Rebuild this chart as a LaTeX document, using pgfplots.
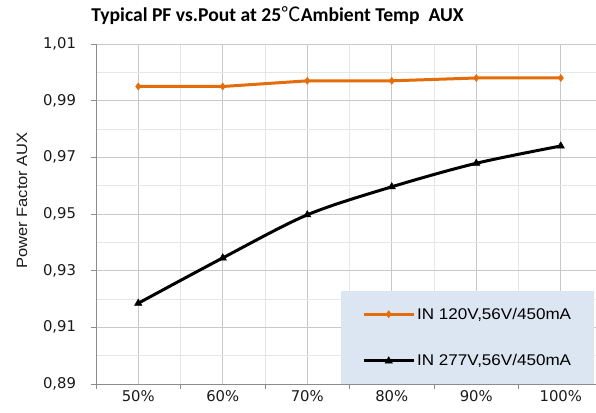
\documentclass[border=0pt]{standalone}
\usepackage{fontspec}
\usepackage{pgfplots}
\pgfplotsset{compat=1.18}
\setmainfont{DejaVu Sans}
\newfontfamily\arialS[FakeStretch=1.1]{Liberation Sans}
\newfontfamily\titlefont{Carlito}
\newfontfamily\cjk{Noto Sans CJK SC}
\definecolor{pforange}{HTML}{E46C0A}
\definecolor{legbg}{HTML}{DCE6F2}
\definecolor{majgrid}{HTML}{C8C8C8}
\definecolor{mingrid}{HTML}{E6E6E6}
\definecolor{axgray}{HTML}{8C8C8C}
\definecolor{lblgray}{HTML}{1A1A1A}
\begin{document}
\begin{tikzpicture}
\useasboundingbox (0,0) rectangle (596pt,412pt);
\begin{axis}[
  at={(96pt,28pt)}, anchor=south west,
  scale only axis, width=500pt, height=340pt,
  xmin=-0.5, xmax=5.417, ymin=0.89, ymax=1.01,
  axis x line*=bottom, axis y line*=left,
  axis line style={axgray, line width=0.8pt},
  xtick={0,1,2,3,4,5},
  xticklabels={50\%,60\%,70\%,80\%,90\%,100\%},
  minor xtick={-0.5,0.5,1.5,2.5,3.5,4.5},
  ytick={0.89,0.91,0.93,0.95,0.97,0.99,1.01},
  minor ytick={0.90,0.92,0.94,0.96,0.98,1.00},
  /pgf/number format/fixed,
  /pgf/number format/fixed zerofill,
  /pgf/number format/precision=2,
  /pgf/number format/use comma,
  /pgf/number format/assume math mode=true,
  tick align=outside,
  major tick length=5pt, minor tick length=5pt,
  major x tick style={draw=none},
  minor y tick style={draw=none},
  every tick/.style={axgray, line width=0.8pt},
  grid=both,
  major grid style={majgrid, line width=0.8pt},
  minor grid style={mingrid, line width=0.8pt},
  tick label style={font=\fontsize{14.8}{17}\selectfont, text=lblgray},
  yticklabel shift=11.5pt,
  xticklabel shift=-2pt,
  ylabel={Power Factor AUX},
  ylabel style={at={(axis description cs:-0.148,0.54)}, anchor=center, font=\arialS\fontsize{15}{18}\selectfont, text=lblgray},
  title={Typical PF vs.Pout at 25{\cjk\mdseries ℃}Ambient Temp\ \ AUX},
  title style={at={(axis description cs:0.363,1.066)}, anchor=center, font=\titlefont\bfseries\fontsize{19.6}{23}\selectfont},
  legend cell align=left,
  legend style={at={(axis description cs:0.49,0)}, anchor=south west, fill=legbg, draw=none,
    inner xsep=21pt, inner ysep=14.5pt, row sep=30pt,
    font=\arialS\fontsize{15.5}{18}\selectfont, text=black,
    /tikz/every even column/.append style={column sep=5pt}},
  legend image code/.code={\draw[mark repeat=2,mark phase=2] plot coordinates {(0pt,0pt)(25pt,0pt)(50pt,0pt)};},
]
\addplot[pforange, line width=3pt, mark=diamond*, mark size=3.5pt, mark options={solid, line width=0.5pt}]
  coordinates {(0,0.995) (1,0.995) (2,0.997) (3,0.997) (4,0.998) (5,0.998)};
\addlegendentry{IN 120V,56V/450mA}
\addplot[black, line width=3pt, smooth, mark=triangle*, mark size=4.2pt, mark options={solid, line width=0.5pt}]
  coordinates {(0,0.9185) (1,0.9345) (2,0.9497) (3,0.9596) (4,0.9679) (5,0.974)};
\addlegendentry{IN 277V,56V/450mA}
\end{axis}
\end{tikzpicture}
\end{document}
